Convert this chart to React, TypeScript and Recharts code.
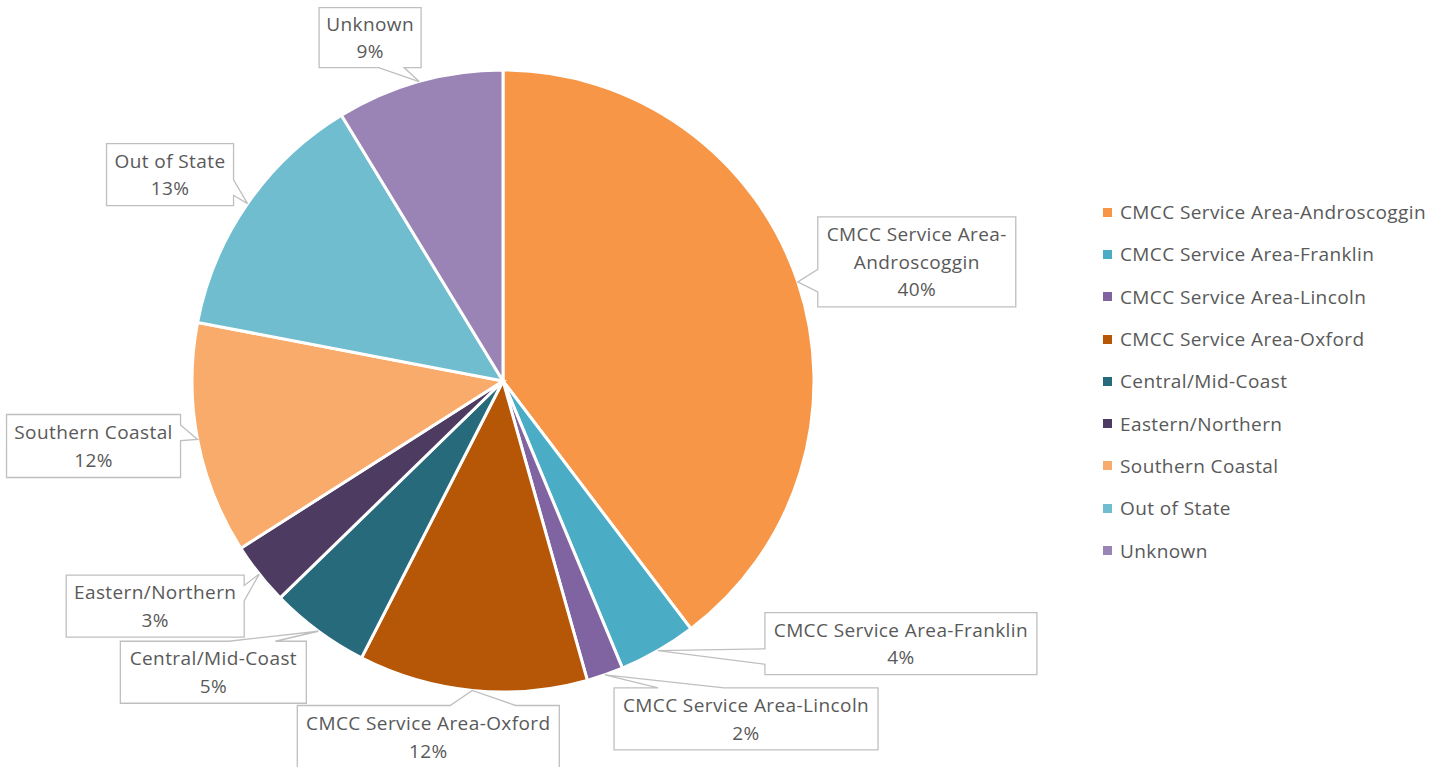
import React from 'react';
import { PieChart, Pie, Cell, Legend } from 'recharts';

const categories = [
  'CMCC Service Area-Androscoggin',
  'CMCC Service Area-Franklin',
  'CMCC Service Area-Lincoln',
  'CMCC Service Area-Oxford',
  'Central/Mid-Coast',
  'Eastern/Northern',
  'Southern Coastal',
  'Out of State',
  'Unknown',
];
const shares = [39.7, 4.06, 1.9, 11.9, 5.2, 3.25, 12.06, 13.3, 8.7];
const colors = ['#F79646', '#4BACC6', '#8064A2', '#B65708', '#276A7C', '#4D3B62', '#F9AB6B', '#70BDD0', '#9A84B6'];

// callout box layout relative to pointer tip: [dx, dy, width, height]
const calloutBoxes: number[][] = [
  [20, -65, 198, 90],
  [107, -38, 272, 62],
  [9, 13, 264, 62],
  [-175, 15, 262, 63],
  [-198, 10, 186, 62],
  [-193, 1, 178, 62],
  [-191, -25, 174, 63],
  [-141, -60, 127, 62],
  [-100, -74, 102, 60],
];
const wrapAfter: (string | null)[] = ['Area-', null, null, null, null, null, null, null, null];

const data = categories.map((name, i) => ({ name, value: shares[i] }));

const FONT = '"Open Sans", Lato, sans-serif';
const TEXT = '#595959';
const FS = 19;
const LS = 0.4;
const RAD = Math.PI / 180;

function calloutPath(bx: number, by: number, w: number, h: number, tx: number, ty: number) {
  const cxb = bx + w / 2;
  const cyb = by + h / 2;
  const dx = (tx - cxb) / w;
  const dy = (ty - cyb) / h;
  const r = bx + w;
  const b = by + h;
  if (Math.abs(dx) > Math.abs(dy)) {
    const y1 = dy > 0 ? by + (h * 7) / 12 : by + (h * 2) / 12;
    const y2 = dy > 0 ? by + (h * 10) / 12 : by + (h * 5) / 12;
    if (dx > 0) {
      return `M${bx},${by} L${r},${by} L${r},${y1} L${tx},${ty} L${r},${y2} L${r},${b} L${bx},${b} Z`;
    }
    return `M${bx},${by} L${r},${by} L${r},${b} L${bx},${b} L${bx},${y2} L${tx},${ty} L${bx},${y1} Z`;
  }
  const x1 = dx > 0 ? bx + (w * 7) / 12 : bx + (w * 2) / 12;
  const x2 = dx > 0 ? bx + (w * 10) / 12 : bx + (w * 5) / 12;
  if (dy < 0) {
    return `M${bx},${by} L${x1},${by} L${tx},${ty} L${x2},${by} L${r},${by} L${r},${b} L${bx},${b} Z`;
  }
  return `M${bx},${by} L${r},${by} L${r},${b} L${x2},${b} L${tx},${ty} L${x1},${b} L${bx},${b} Z`;
}

const renderLabel = (props: any) => {
  const { cx, cy, midAngle, outerRadius, index, percent, name } = props;
  const tx = cx + outerRadius * Math.cos(-midAngle * RAD);
  const ty = cy + outerRadius * Math.sin(-midAngle * RAD);
  const [dx, dy, w, h] = calloutBoxes[index];
  const bx = tx + dx;
  const by = ty + dy;
  const lines: string[] = [];
  const wa = wrapAfter[index];
  if (wa && name.indexOf(wa) >= 0) {
    const k = name.indexOf(wa) + wa.length;
    lines.push(name.slice(0, k), name.slice(k));
  } else {
    lines.push(name);
  }
  lines.push(`${Math.round(percent * 100)}%`);
  const lh = 27.5;
  const mid = by + h / 2;
  const start = mid - ((lines.length - 1) * lh) / 2;
  return (
    <g key={`lbl-${index}`}>
      <path d={calloutPath(bx, by, w, h, tx, ty)} fill="#ffffff" stroke="#BFBFBF" strokeWidth={1.3} />
      {lines.map((ln, i) => (
        <text
          key={i}
          x={bx + w / 2}
          y={start + i * lh}
          textAnchor="middle"
          dominantBaseline="central"
          fill={TEXT}
          fontFamily={FONT}
          fontSize={FS}
          letterSpacing={LS}
        >
          {ln}
        </text>
      ))}
    </g>
  );
};

const renderLegend = (props: any) => {
  const payload = [...(props.payload || [])].sort(
    (a: any, b: any) => categories.indexOf(a.value) - categories.indexOf(b.value)
  );
  return (
    <div style={{ fontFamily: FONT, fontSize: FS, letterSpacing: LS, color: TEXT }}>
      {payload.map((entry: any, i: number) => (
        <div key={i} style={{ display: 'flex', alignItems: 'center', height: 42.3, whiteSpace: 'nowrap' }}>
          <span style={{ display: 'inline-block', width: 9, height: 9, background: entry.color, marginRight: 8 }} />
          <span>{entry.value}</span>
        </div>
      ))}
    </div>
  );
};

export default function App() {
  return (
    <div style={{ position: 'absolute', left: 0, top: 0, background: '#fff' }}>
      <PieChart width={1444} height={767} margin={{ top: 0, right: 0, bottom: 0, left: 0 }}>
        <Pie
          data={data}
          dataKey="value"
          nameKey="name"
          cx={503}
          cy={381}
          outerRadius={311}
          startAngle={90}
          endAngle={-270}
          stroke="#ffffff"
          strokeWidth={3}
          label={renderLabel}
          labelLine={false}
          isAnimationActive={false}
        >
          {data.map((d, i) => (
            <Cell key={d.name} fill={colors[i]} />
          ))}
        </Pie>
        <Legend
          layout="vertical"
          align="right"
          verticalAlign="top"
          itemSorter={null as any}
          content={renderLegend}
          wrapperStyle={{ position: 'absolute', left: 1103, top: 191, width: 341 }}
        />
      </PieChart>
    </div>
  );
}
